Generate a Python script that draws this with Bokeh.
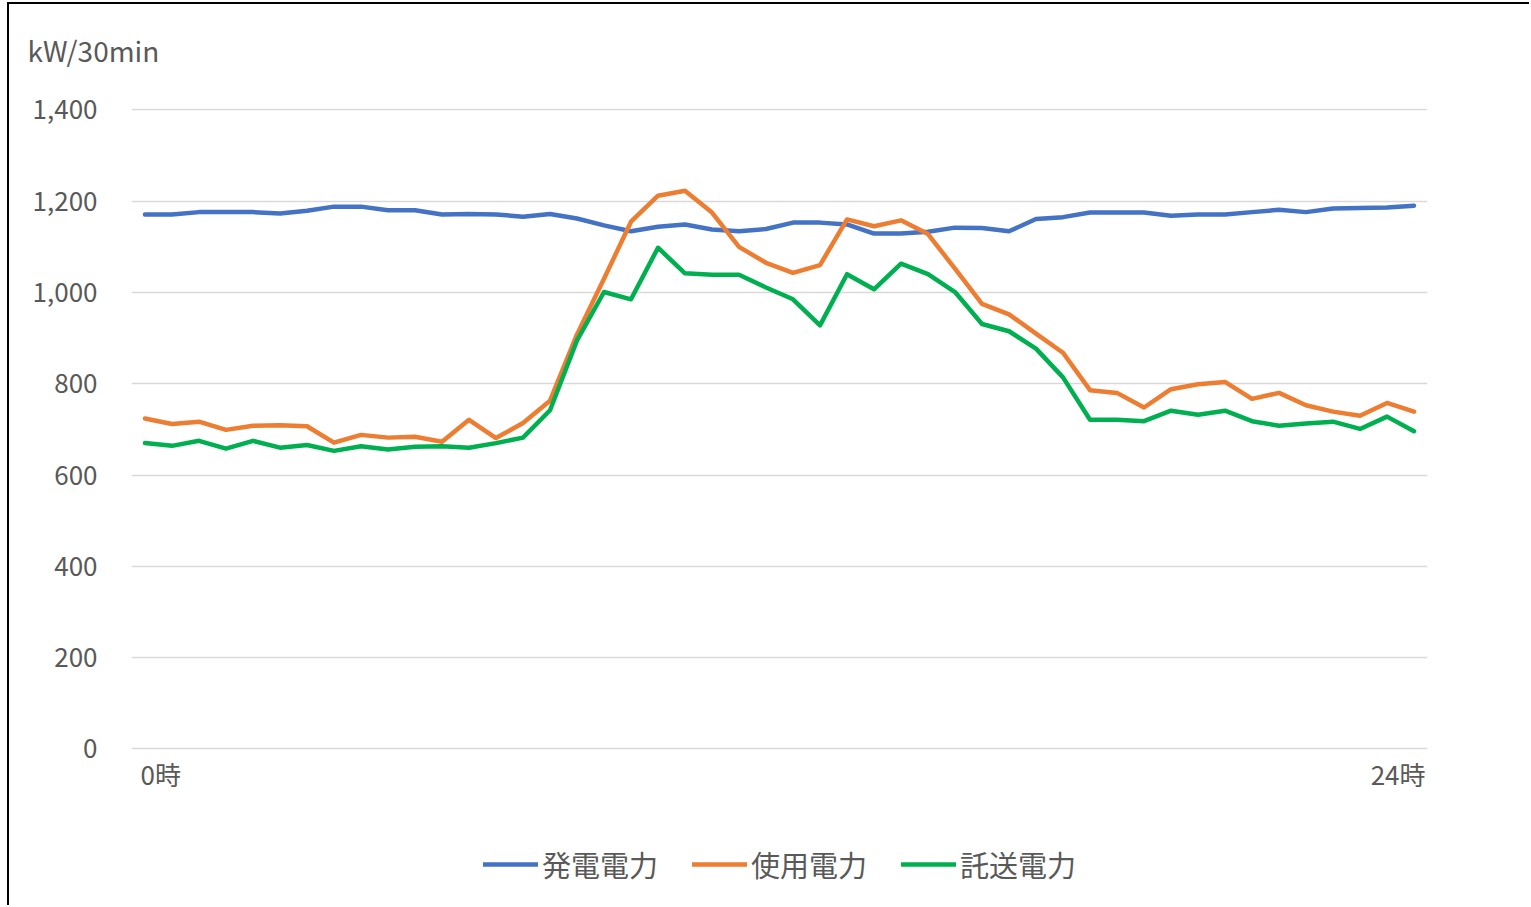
from bokeh.plotting import figure
from bokeh.models import Range1d, FixedTicker, NumeralTickFormatter, Label, Title
from bokeh.embed import file_html
from bokeh.resources import INLINE

# ---- data (kW per 30 min, 48 half-hour slots, 0時 .. 24時) ----
slots = list(range(48))
x_labels = ["0時", "24時"]
y_ticks = [0, 200, 400, 600, 800, 1000, 1200, 1400]
series_names = ["発電電力", "使用電力", "託送電力"]

gen = [1171, 1171, 1176, 1176, 1176, 1173, 1179, 1188, 1188, 1180, 1180, 1171,
       1172, 1171, 1166, 1172, 1162, 1147, 1134, 1144, 1149, 1138, 1134, 1139,
       1153, 1153, 1149, 1129, 1129, 1133, 1142, 1141, 1134, 1161, 1165, 1175,
       1175, 1175, 1168, 1171, 1171, 1176, 1181, 1176, 1184, 1185, 1186, 1190]
use = [724, 712, 717, 699, 708, 709, 707, 671, 688, 682, 684, 673,
       721, 681, 714, 763, 908, 1030, 1155, 1212, 1223, 1175, 1100, 1065,
       1043, 1060, 1160, 1145, 1158, 1128, 1052, 975, 952, 910, 868, 786,
       780, 748, 788, 799, 804, 767, 780, 753, 739, 730, 758, 739]
trans = [670, 664, 675, 658, 675, 660, 666, 653, 663, 656, 662, 663,
         660, 670, 682, 742, 895, 1001, 985, 1098, 1042, 1039, 1039, 1011,
         985, 928, 1040, 1007, 1063, 1040, 1001, 931, 915, 877, 814, 721,
         721, 718, 741, 732, 741, 718, 708, 713, 717, 701, 728, 696]
colors = ["#4472C4", "#ED7D31", "#00B050"]

FONT = "Noto Sans CJK JP"
TXT = "#595959"

p = figure(
    output_backend="svg", toolbar_location=None, title=None,
    frame_width=1296, frame_height=792,
    min_border_left=122, min_border_right=102, min_border_top=104, min_border_bottom=5,
    x_range=Range1d(-0.5, 47.5), y_range=Range1d(-332, 1403),
    background_fill_color="white", border_fill_color="white",
)
p.styles = {"border-left": "2px solid black", "border-top": "2px solid black",
            "margin-left": "7px", "margin-top": "2px"}
p.outline_line_color = None

for vals, name, c in zip([gen, use, trans], series_names, colors):
    p.line(slots, vals, line_width=4.5, line_color=c, line_join="round",
           line_cap="round", legend_label=name)

# axes
p.xaxis.visible = False
p.xgrid.grid_line_color = None
ya = p.yaxis[0]
ya.ticker = FixedTicker(ticks=y_ticks)
ya.formatter = NumeralTickFormatter(format="0,0")
ya.axis_line_color = None
ya.major_tick_line_color = None
ya.minor_tick_line_color = None
ya.major_tick_out = 0
ya.major_tick_in = 0
ya.major_label_standoff = 34
ya.major_label_text_font = FONT
ya.major_label_text_font_size = "26px"
ya.major_label_text_color = TXT
p.ygrid.ticker = FixedTicker(ticks=y_ticks)
p.ygrid.grid_line_color = "#D9D9D9"
p.ygrid.grid_line_width = 1.5

# category end labels
p.add_layout(Label(x=slots[0] - 0.5, y=y_ticks[0], x_offset=9, y_offset=-25,
                   text=x_labels[0], text_align="left", text_baseline="middle",
                   text_font=FONT, text_font_size="26px", text_color=TXT))
p.add_layout(Label(x=slots[-1] + 0.5, y=y_ticks[0], x_offset=-2, y_offset=-25,
                   text=x_labels[1], text_align="right", text_baseline="middle",
                   text_font=FONT, text_font_size="26px", text_color=TXT))
# spacer between the plot area and the unit title, then the unit title
p.add_layout(Title(text=" ", standoff=6, text_font=FONT, text_font_size="20px"), "above")
p.add_layout(Title(text="kW/30min", align="left", offset=-104, vertical_align="top",
                   standoff=0, text_font=FONT, text_font_size="28px",
                   text_font_style="normal", text_color=TXT), "above")

lg = p.legend[0]
lg.orientation = "horizontal"
lg.location = (352, 15)
lg.border_line_color = None
lg.background_fill_alpha = 0
lg.padding = 0
lg.margin = 0
lg.spacing = 34
lg.glyph_width = 55
lg.glyph_height = 30
lg.label_standoff = 4
lg.label_text_font = FONT
lg.label_text_font_size = "29px"
lg.label_text_color = TXT

open("out.html", "w").write(file_html(p, INLINE))
